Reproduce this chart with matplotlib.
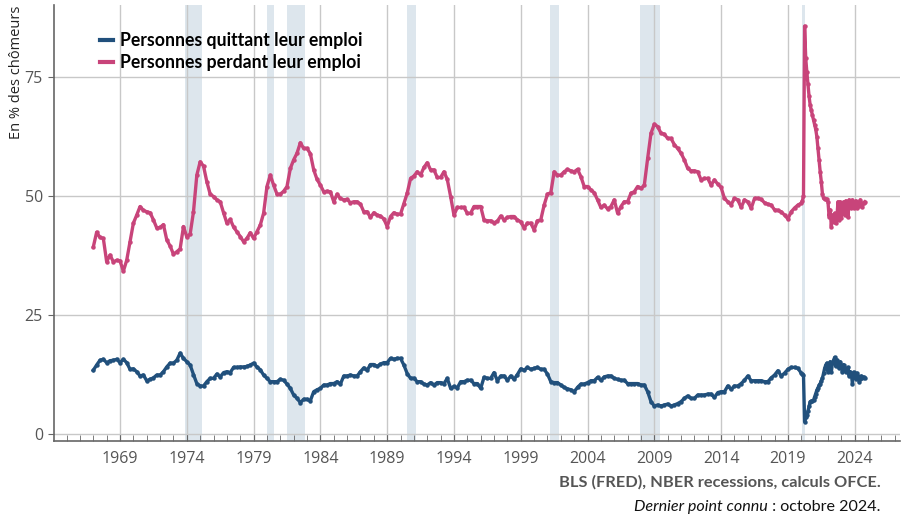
import numpy as np
import matplotlib
matplotlib.use("Agg")
import matplotlib.pyplot as plt

# Données : part des chômeurs (en %) - lecture du graphique
# trimestriel 1967T1 - 2019T4
quit_q = [
    13.4, 14.5, 15.5, 15.7,  15.0, 15.4, 15.5, 15.7,  15.0, 15.7, 15.0, 13.6,
    13.7, 13.1, 12.2, 12.4,  11.2, 11.5, 11.8, 12.4,  12.4, 13.1, 14.1, 14.9,
    14.9, 15.5, 17.0, 15.9,  15.2, 14.5, 12.5, 10.6,  10.1, 10.1, 11.0, 11.7,
    11.7, 12.6, 12.0, 12.9,  13.1, 12.9, 14.0, 14.0,  14.1, 14.1, 14.2, 14.5,
    14.9, 14.1, 13.5, 12.4,  11.7, 11.0, 11.0, 11.0,  11.5, 11.3, 10.5, 9.6,
    8.2, 7.5, 6.6, 7.3,      7.3, 7.0, 8.9, 9.3,      9.6, 10.3, 10.3, 10.6,
    10.6, 11.0, 10.5, 12.2,  12.2, 12.4, 12.2, 12.2,  13.1, 13.9, 13.4, 14.6,
    14.6, 14.2, 14.7, 15.0,  15.0, 15.9, 15.7, 15.9,  15.9, 14.5, 12.7, 11.7,
    11.7, 11.0, 11.0, 10.5,  10.3, 10.8, 10.3, 10.8,  10.8, 10.6, 11.7, 9.6,
    10.0, 9.7, 11.0, 11.0,   11.3, 11.3, 10.6, 10.6,  9.6, 11.9, 11.7, 11.7,
    12.9, 11.2, 12.2, 12.2,  11.3, 12.2, 11.5, 12.5,  13.7, 13.4, 14.0, 13.6,
    13.8, 14.0, 13.6, 13.6,  12.6, 11.0, 10.8, 10.8,  10.3, 9.8, 9.5, 9.3,
    8.9, 9.8, 10.5, 10.5,    10.8, 11.2, 11.2, 11.9,  11.3, 12.0, 12.2, 12.2,
    11.7, 11.5, 11.3, 11.3,  10.6, 10.6, 10.6, 10.6,  10.3, 10.3, 8.9, 6.8,
    5.9, 6.1, 5.9, 6.1,      6.3, 5.9, 6.1, 6.4,      6.8, 7.5, 8.0, 7.5,
    7.5, 8.2, 8.2, 8.2,      8.4, 8.4, 7.7, 8.7,      8.9, 8.9, 10.1, 9.4,
    10.1, 10.1, 10.6, 11.3,  12.2, 11.2, 11.2, 11.2,  11.2, 11.0, 11.0, 11.8,
    12.4, 13.3, 12.2, 12.8,  13.6, 14.0, 14.0, 13.8,
]
lose_q = [
    39.3, 42.4, 41.3, 41.1,  36.2, 37.6, 36.2, 36.5,  36.4, 34.2, 36.5, 40.4,
    44.3, 46.0, 47.8, 47.0,  46.7, 46.5, 45.0, 43.3,  43.4, 44.0, 40.8, 39.5,
    37.8, 38.3, 38.9, 43.6,  41.4, 42.0, 46.7, 54.4,  57.2, 56.3, 53.0, 50.4,
    49.9, 49.2, 48.8, 46.5,  44.3, 45.1, 43.5, 42.5,  41.5, 40.4, 41.1, 42.3,
    41.1, 42.5, 43.9, 46.4,  52.0, 54.4, 52.3, 50.4,  50.4, 51.0, 52.0, 55.8,
    57.6, 59.0, 61.2, 60.0,  60.0, 58.9, 55.5, 53.5,  52.3, 50.9, 51.0, 50.9,
    48.8, 50.4, 49.5, 49.2,  49.3, 48.6, 48.8, 48.8,  48.3, 46.7, 46.7, 45.5,
    46.5, 46.0, 45.8, 45.2,  43.6, 45.7, 46.5, 46.2,  46.2, 48.4, 50.6, 53.7,
    54.2, 55.1, 54.4, 56.0,  57.0, 55.5, 55.5, 53.9,  53.9, 55.1, 53.5, 49.9,
    46.0, 47.6, 47.6, 47.6,  46.4, 46.4, 47.8, 47.8,  47.8, 45.0, 44.8, 44.8,
    44.4, 44.7, 45.8, 45.0,  45.5, 45.7, 45.7, 45.0,  44.6, 43.3, 44.3, 44.3,
    42.9, 44.8, 45.0, 48.1,  50.4, 50.7, 55.1, 54.4,  54.4, 55.1, 55.6, 55.3,
    55.1, 55.6, 54.1, 52.0,  52.0, 51.3, 50.7, 49.2,  47.6, 48.1, 47.3, 47.8,
    49.2, 46.4, 47.8, 48.8,  48.8, 50.6, 50.9, 52.0,  51.6, 52.3, 57.9, 63.2,
    65.1, 64.6, 63.2, 63.0,  62.1, 62.1, 60.8, 60.0,  59.0, 57.6, 55.8, 55.3,
    55.3, 55.1, 53.4, 53.7,  53.7, 52.3, 53.4, 52.5,  51.8, 49.5, 48.8, 48.2,
    49.5, 49.2, 47.6, 49.2,  48.8, 47.4, 49.5, 49.5,  49.3, 48.6, 48.3, 48.1,
    47.1, 47.0, 46.7, 46.0,  45.2, 46.7, 47.5, 48.1,
]
# mensuel janvier 2020 - octobre 2024
quit_m = [
    12.8, 12.6, 12.4, 2.6, 3.5, 4.0, 4.8, 5.8, 6.8, 6.9, 7.0, 7.1,
    7.8, 8.5, 9.2, 9.7, 10.2, 10.6, 11.2, 11.7, 12.8, 13.8, 14.5, 14.9,
    13.1, 14.0, 15.2, 13.0, 14.9, 15.5, 16.1, 14.2, 15.6, 14.5, 13.8, 15.2,
    14.0, 13.0, 14.6, 13.5, 13.0, 13.8, 14.0, 12.2, 13.1, 12.5, 10.6, 13.0,
    12.0, 11.6, 12.8, 12.2, 11.0, 11.5, 12.2, 11.7, 12.0, 11.7,
]
lose_m = [
    48.5, 49.0, 50.0, 85.7, 79.0, 76.1, 73.5, 71.0, 69.1, 68.0, 67.0, 66.0,
    65.0, 64.0, 62.5, 60.0, 57.5, 55.1, 53.0, 50.5, 49.5, 49.4, 49.4, 49.3,
    48.8, 45.7, 47.1, 43.6, 46.0, 44.5, 46.4, 44.3, 45.5, 48.8, 45.0, 48.8,
    45.3, 48.1, 48.8, 46.0, 49.0, 48.8, 45.5, 49.2, 48.8, 47.4, 49.2, 47.5,
    48.0, 49.0, 47.4, 48.5, 48.0, 49.2, 48.2, 47.8, 48.6, 48.8,
]

# récessions NBER (début, fin)
rec_start = [1973.83, 1980.0, 1981.5, 1990.5, 2001.17, 2007.92, 2020.08]
rec_end = [1975.17, 1980.5, 1982.83, 1991.17, 2001.83, 2009.42, 2020.25]

tick_years = list(range(1969, 2025, 5))

t = np.concatenate([1967 + np.arange(len(quit_q)) / 4,
                    2020 + np.arange(len(quit_m)) / 12])
quit_all = np.array(quit_q + quit_m)
lose_all = np.array(lose_q + lose_m)

blue = '#21507c'
pink = '#c8447a'
grey = '#555555'

fig = plt.figure(figsize=(9.02, 5.18), dpi=100)
ax = fig.add_axes([0.0599, 0.1486, 0.938, 0.8414])

for a, b in zip(rec_start, rec_end):
    ax.axvspan(a, b, color='#dde6ed', lw=0, zorder=0)

ax.plot(t, quit_all, color=blue, lw=2.4, marker='o', ms=2.2,
        label='Personnes quittant leur emploi', zorder=3)
ax.plot(t, lose_all, color=pink, lw=2.4, marker='o', ms=2.2,
        label='Personnes perdant leur emploi', zorder=3)

ax.set_xlim(1964.06, 2027.4)
ax.set_ylim(-1.47, 90.1)

ax.set_xticks(tick_years)
ax.set_xticks(range(1965, 2028), minor=True)
ax.set_yticks([0, 25, 50, 75])
ax.grid(True, color='#c8c8c8', lw=1.0, zorder=1)

for s in ['top', 'right']:
    ax.spines[s].set_visible(False)
for s in ['left', 'bottom']:
    ax.spines[s].set_color('#666666')
    ax.spines[s].set_linewidth(1.2)

ax.tick_params(axis='x', which='major', direction='in', length=5,
               color='#666666', labelsize=11.5, labelcolor=grey, pad=7)
ax.tick_params(axis='x', which='minor', direction='in', length=4,
               color='#666666')
ax.tick_params(axis='y', direction='out', length=4, color='#666666',
               labelsize=11.5, labelcolor=grey, pad=4)
for lab in ax.get_xticklabels() + ax.get_yticklabels():
    lab.set_family('Open Sans')

fig.text(0.010, 0.99, 'En % des chômeurs', rotation=90, ha='left', va='top',
         fontsize=10.5, color='#222222', family='Open Sans')

leg = ax.legend(loc='upper left', bbox_to_anchor=(0.036, 0.975), frameon=False,
                handlelength=0.7, handletextpad=0.4, labelspacing=0.3,
                prop={'family': 'Lato', 'weight': 'bold', 'size': 12.7})
for h in leg.legend_handles:
    h.set_marker('')
    h.set_linewidth(3)

fig.text(0.976, 0.068, 'BLS (FRED), NBER recessions, calculs OFCE.',
         ha='right', va='center', fontsize=11.8, fontweight='bold',
         color=grey, family='Lato')

# dernière ligne : partie italique + partie normale
renderer = fig.canvas.get_renderer()
t2 = fig.text(0.976, 0.022, ' : octobre 2024.', ha='right', va='center',
              fontsize=11.6, color='#111111', family='Lato')
bb = t2.get_window_extent(renderer)
fig.text(bb.x0 / fig.bbox.width, 0.022, 'Dernier point connu', ha='right',
         va='center', fontsize=11.6, style='italic', color='#111111',
         family='Lato')

plt.savefig('out.png', dpi=100)
plt.close()
